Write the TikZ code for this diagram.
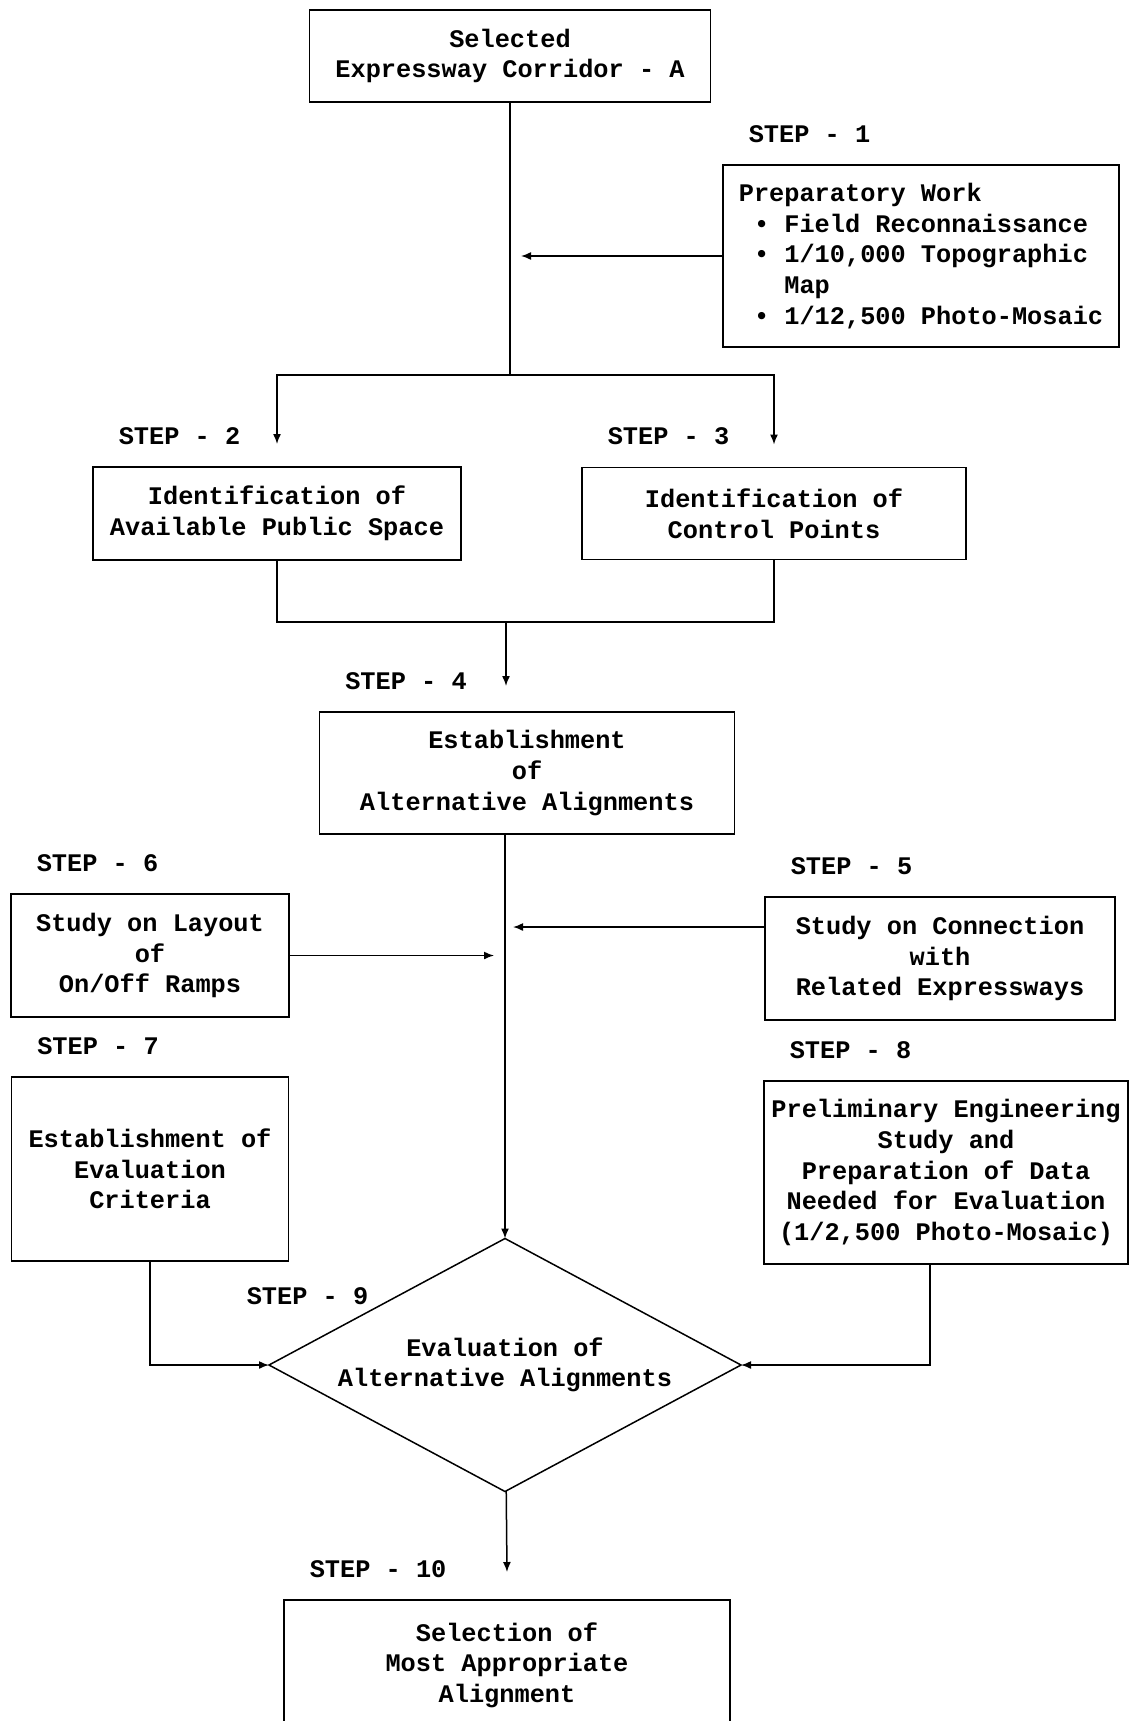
\documentclass[tikz,border=0pt]{standalone}
\usepackage{fontspec}
\setmainfont{Liberation Mono}
\usetikzlibrary{positioning,shapes.geometric,arrows.meta}

\begin{document}
\begin{tikzpicture}[x=1pt,y=-1pt,node distance=2cm,on grid,auto,
    line width=1.5pt,>={Latex[length=10pt,width=8pt]}]
    \tikzset{stepbox/.style 2 args={draw,rectangle,minimum width=#1,minimum height=#2,
        inner sep=0pt,outer sep=0pt,align=center,font=\bfseries\fontsize{25.3}{30.6}\selectfont}}
    \tikzset{steplbl/.style={inner sep=0pt,anchor=west,font=\bfseries\fontsize{25.3}{30.6}\selectfont}}
    \tikzset{decide/.style={draw,diamond,aspect=1.87,minimum width=472pt,minimum height=253pt,
        inner sep=0pt,outer sep=0pt,align=center,font=\bfseries\fontsize{25.3}{30.6}\selectfont}}
    \useasboundingbox (0,0) rectangle (1129,1721);
    \clip (0,0) rectangle (1129,1721);
    % boxes
    \node[stepbox={401pt}{92pt}] (sel) at (510,56) {Selected\\Expressway Corridor - A};
    \node[stepbox={396pt}{182pt},align=left] (prep) [below right=200pt and 411pt of sel]
        {Preparatory Work\\
         \hspace*{0.6em}•\ Field Reconnaissance\\
         \hspace*{0.6em}•\ 1/10,000 Topographic\\
         \hspace*{1.8em}Map\\
         \hspace*{0.6em}•\ 1/12,500 Photo-Mosaic};
    \node[stepbox={368pt}{93pt}] (pub) [below left=457.5pt and 233pt of sel] {Identification of\\Available Public Space};
    \node[stepbox={384pt}{92pt}] (ctrl) [right=497pt of pub] {Identification of\\Control Points};
    \node[stepbox={415pt}{122pt}] (alt) [below right=717pt and 17pt of sel] {Establishment\\of\\Alternative Alignments};
    \node[stepbox={278pt}{123pt}] (ramp) [below left=182.5pt and 377pt of alt] {Study on Layout\\of\\On/Off Ramps};
    \node[stepbox={350pt}{123pt}] (conn) [below right=185.5pt and 413pt of alt] {Study on Connection\\with\\Related Expressways};
    \node[stepbox={277pt}{184pt}] (crit) [below=213.5pt of ramp] {Establishment of\\Evaluation\\Criteria};
    \node[stepbox={364pt}{183pt}] (prelim) [below right=214pt and 6pt of conn]
        {Preliminary Engineering\\Study and\\Preparation of Data\\Needed for Evaluation\\(1/2,500 Photo-Mosaic)};
    \node[decide] (eval) [below left=592pt and 22pt of alt] {Evaluation of\\Alternative Alignments};
    \node[stepbox={446pt}{130pt}] (best) [below right=300pt and 2pt of eval] {Selection of\\Most Appropriate\\Alignment};
    % step labels
    \node (lbl1) [above right=31pt and 25pt of prep.north west,steplbl] {STEP - 1};
    \node (lbl2) [above right=31pt and 25pt of pub.north west,steplbl] {STEP - 2};
    \node (lbl3) [above right=31pt and 25pt of ctrl.north west,steplbl] {STEP - 3};
    \node (lbl4) [above right=31pt and 25pt of alt.north west,steplbl] {STEP - 4};
    \node (lbl5) [above right=31pt and 25pt of conn.north west,steplbl] {STEP - 5};
    \node (lbl6) [above right=31pt and 25pt of ramp.north west,steplbl] {STEP - 6};
    \node (lbl7) [above right=31pt and 25pt of crit.north west,steplbl] {STEP - 7};
    \node (lbl8) [above right=31pt and 25pt of prelim.north west,steplbl] {STEP - 8};
    \node (lbl9) [above left=6pt and 18pt of eval.north west,steplbl,anchor=east] {STEP - 9};
    \node (lbl10) [above right=31pt and 25pt of best.north west,steplbl] {STEP - 10};
    % connectors
    \coordinate[below=273pt of sel.south] (fork);
    \coordinate[above left=90pt and 21pt of alt.north] (merge);
    \coordinate[below=64pt of merge] (in4);
    \coordinate[below=30pt of conn.north west] (c5);
    \draw (sel) -- (fork);
    \draw[->] (fork) -| ([yshift=23pt]pub.north);
    \draw[->] (fork) -| ([yshift=23pt]ctrl.north);
    \draw[->,shorten >=11pt] (prep) -- (prep -| fork);
    \draw (pub) |- (merge) -| (ctrl);
    \draw[->] (merge) -- (in4);
    \draw[->] (alt.south -| eval.north) -- (eval.north);
    \draw[->,shorten >=11pt] (ramp) -- (ramp -| eval.north);
    \draw[->,shorten >=8pt] (c5) -- (c5 -| eval.north);
    \draw[->] (crit) |- (eval.west);
    \draw[->] ([xshift=-16pt]prelim.south) |- (eval.east);
    \draw[->] (eval) -- ([yshift=28pt]best.north);
\end{tikzpicture}
\end{document}
